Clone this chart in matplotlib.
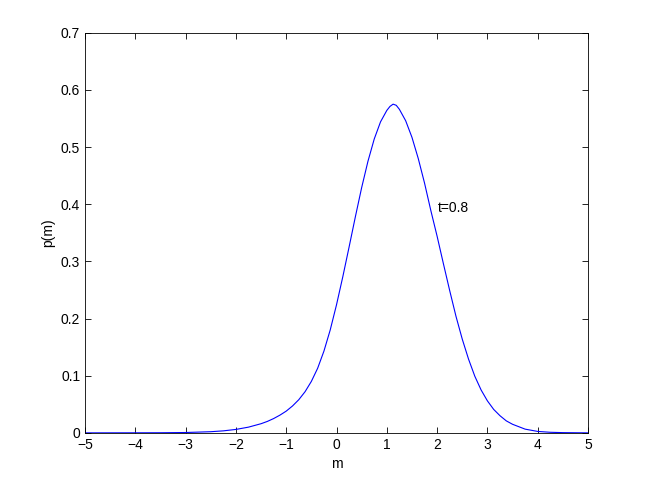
import numpy as np
import matplotlib.pyplot as plt

# values
m = [-5.0, -4.0, -3.5, -3.0, -2.5, -2.25, -2.0, -1.75, -1.5, -1.375, -1.25,
     -1.125, -1.0, -0.875, -0.75, -0.625, -0.5, -0.375, -0.25, -0.125, 0.0,
     0.125, 0.25, 0.375, 0.5, 0.625, 0.75, 0.875, 1.0, 1.0625, 1.125, 1.1875,
     1.25, 1.375, 1.5, 1.625, 1.75, 1.875, 2.0, 2.125, 2.25, 2.375, 2.5,
     2.625, 2.75, 2.875, 3.0, 3.125, 3.25, 3.375, 3.5, 3.75, 4.0, 4.25, 4.5,
     5.0]
p = [0.0, 0.0001, 0.0002, 0.0006, 0.002, 0.0035, 0.006, 0.010, 0.016, 0.020,
     0.025, 0.031, 0.038, 0.047, 0.058, 0.072, 0.090, 0.113, 0.143, 0.180,
     0.224, 0.273, 0.325, 0.378, 0.429, 0.475, 0.514, 0.544, 0.564, 0.571,
     0.575, 0.573, 0.566, 0.546, 0.517, 0.480, 0.437, 0.389, 0.344, 0.296,
     0.249, 0.204, 0.164, 0.129, 0.099, 0.075, 0.056, 0.041, 0.030, 0.021,
     0.015, 0.0065, 0.0025, 0.001, 0.0004, 0.0]

plt.rcParams['font.family'] = ['Liberation Sans', 'DejaVu Sans']
plt.rcParams['font.size'] = 10

fig = plt.figure(figsize=(6.49, 4.88), dpi=100)
ax = fig.add_axes([0.131, 0.113, 0.775, 0.820])
ax.plot(m, p, color='#0000ff', linewidth=0.8)
ax.text(2.01, 0.393, 't=0.8', ha='left', va='center')

ax.set_xlim(-5, 5)
ax.set_ylim(0, 0.7)
ax.set_xticks(np.arange(-5, 6, 1))
ax.set_yticks(np.arange(0, 0.71, 0.1))
ax.set_xticklabels(['\u22125', '\u22124', '\u22123', '\u22122', '\u22121', '0', '1', '2', '3', '4', '5'])
ax.set_yticklabels(['0', '0.1', '0.2', '0.3', '0.4', '0.5', '0.6', '0.7'])
ax.tick_params(direction='in', top=True, right=True, length=4, width=0.6)
for s in ax.spines.values():
    s.set_linewidth(0.6)
ax.set_xlabel('m')
ax.set_ylabel('p(m)')

plt.savefig('out.png', dpi=100)
